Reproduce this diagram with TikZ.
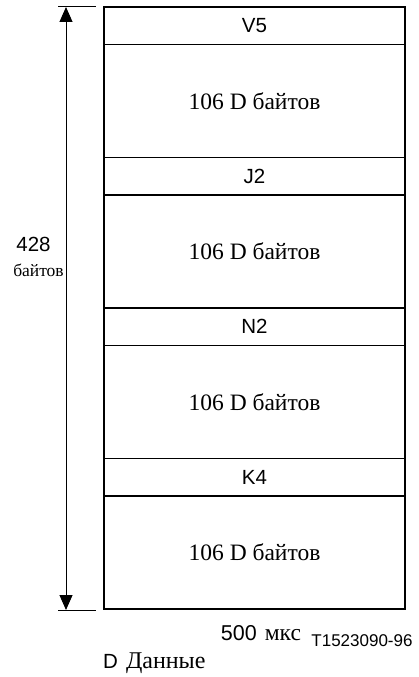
\documentclass[tikz,border=0pt]{standalone}
\usepackage{fontspec}
\setmainfont{Liberation Serif}
\newfontfamily\arial{Liberation Sans}
\usetikzlibrary{arrows.meta}
\begin{document}
\begin{tikzpicture}[x=1pt,y=-1pt,
  sect/.style={draw,line width=1.2pt,minimum width=301pt,inner sep=0pt,outer sep=0pt,anchor=north west},
  hdr/.style={sect,minimum height=37.5pt,font=\arial\fontsize{20.5}{20.5}\selectfont},
  dat/.style={sect,minimum height=113pt,font=\fontsize{23.5}{23.5}\selectfont},
  tick/.style={line width=1pt},
  dim/.style={line width=1pt,{Triangle[width=13pt,length=15pt]}-{Triangle[width=13pt,length=15pt]}}]
\useasboundingbox (0,0) rectangle (419,677);
\node[hdr] (v5) at (104,7) {V5};
\node[dat] (d1) at (v5.south west) {106 D байтов};
\node[hdr] (j2) at (d1.south west) {J2};
\node[dat] (d2) at (j2.south west) {106 D байтов};
\node[hdr] (n2) at (d2.south west) {N2};
\node[dat] (d3) at (n2.south west) {106 D байтов};
\node[hdr] (k4) at (d3.south west) {K4};
\node[dat] (d4) at (k4.south west) {106 D байтов};
\coordinate (tt) at (66,7);
\coordinate (tb) at (66,610);
\draw[tick] (58,7) -- (96,7);
\draw[tick] (58,610) -- (96,610);
\draw[dim] (tt) -- (tb);
\node[font=\arial\fontsize{20.5}{20.5}\selectfont] (n428) at (33.5,244) {428};
\node[font=\fontsize{17.5}{17.5}\selectfont] (nbyt) at (38.5,270) {байтов};
\node (t500) at (261,633) {{\arial\fontsize{21.5}{21.5}\selectfont 500}\hspace{8pt}{\fontsize{23.5}{23.5}\selectfont мкс}};
\node[font=\arial\fontsize{17}{17}\selectfont] (tid) at (362,641) {T1523090-96};
\node[anchor=west,inner sep=0pt] (leg) at (103,663) {{\arial\fontsize{20.5}{20.5}\selectfont D}\hspace{8pt}{\fontsize{24}{24}\selectfont Данные}};
\end{tikzpicture}
\end{document}
